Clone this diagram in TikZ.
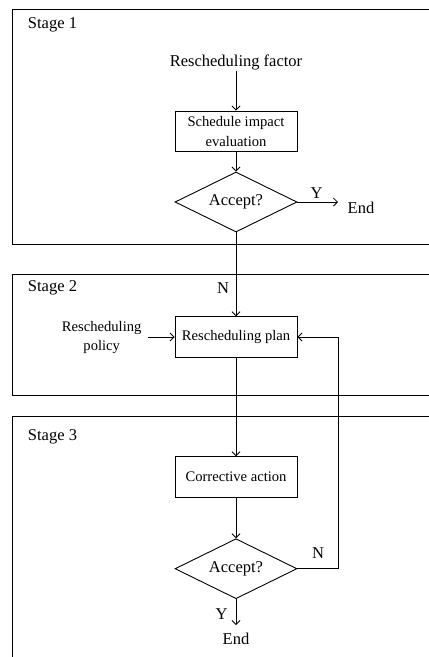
\documentclass[tikz,border=0pt]{standalone}
\usepackage{fontspec}
\setmainfont{Liberation Serif}
\usetikzlibrary{shapes.geometric,arrows.meta}
\begin{document}
\begin{tikzpicture}[x=1pt,y=-1pt,
  line width=0.9pt,
  big/.style={font=\fontsize{16.5}{19}\selectfont},
  small/.style={font=\fontsize{14.6}{19.5}\selectfont},
  frame/.style={draw,line width=0.9pt},
  procbox/.style={draw,rectangle,small,minimum width=122pt,minimum height=40.6pt,inner sep=0pt},
  decision/.style={draw,diamond,big,minimum width=122pt,minimum height=60pt,inner sep=0pt,shape aspect=2},
  lbl/.style={big,inner sep=0pt},
  arr/.style={-{Straight Barb[length=4pt,width=8pt,line width=0.8pt]}}
]
\useasboundingbox (0,0) rectangle (429,657);
\clip (0,0) rectangle (429,657);
\fill[white] (0,0) rectangle (429,657);
% stage frames
\draw[frame] (440,9.3) -- (12.7,9.3) -- (12.7,244) -- (440,244);
\draw[frame] (440,274) -- (12.7,274) -- (12.7,395) -- (440,395);
\draw[frame] (440,416) -- (12.7,416) -- (12.7,670);
\node[lbl] (s1) at (52.5,25) {Stage 1};
\node[lbl] (s2) at (52.5,288.3) {Stage 2};
\node[lbl] (s3) at (52.5,436.7) {Stage 3};
% stage 1
\node[lbl] (factor) at (236,62.7) {Rescheduling factor};
\node[procbox,align=center] (sie) at (236,131.3) {Schedule impact\\evaluation};
\node[decision] (d1) at (236,202) {Accept?};
\node[lbl] (end1) at (361,208) {End};
\coordinate (e1) at (338,202);
\node[lbl] (y1) at (316.7,192.7) {Y};
\draw[arr] (factor.south) -- (sie.north);
\draw[arr] (sie.south) -- (d1.north);
\draw[arr] (d1.east) -- (e1);
% stage 2
\node[procbox] (plan) at (236,337) {Rescheduling plan};
\node[small,align=center,inner sep=0pt] (policy) at (101.7,337.6) {Rescheduling\\policy};
\coordinate (p0) at (147.7,337);
\node[lbl] (n1) at (223,288) {N};
\draw[arr] (d1.south) -- (plan.north);
\draw[arr] (p0) -- (plan.west);
% stage 3
\node[procbox] (corr) at (236,477) {Corrective action};
\node[decision] (d2) at (236,568.7) {Accept?};
\node[lbl] (n2) at (318,552.7) {N};
\node[lbl] (y2) at (221.7,614.3) {Y};
\coordinate (e2) at (236,625);
\node[lbl] (end2) at (236,639.3) {End};
\draw[arr] (plan.south) -- (corr.north);
\draw[arr] (corr.south) -- (d2.north);
\draw[arr] (d2.south) -- (e2);
\draw[arr] (d2.east) -- (338.3,568.7) |- (plan.east);
\end{tikzpicture}
\end{document}
